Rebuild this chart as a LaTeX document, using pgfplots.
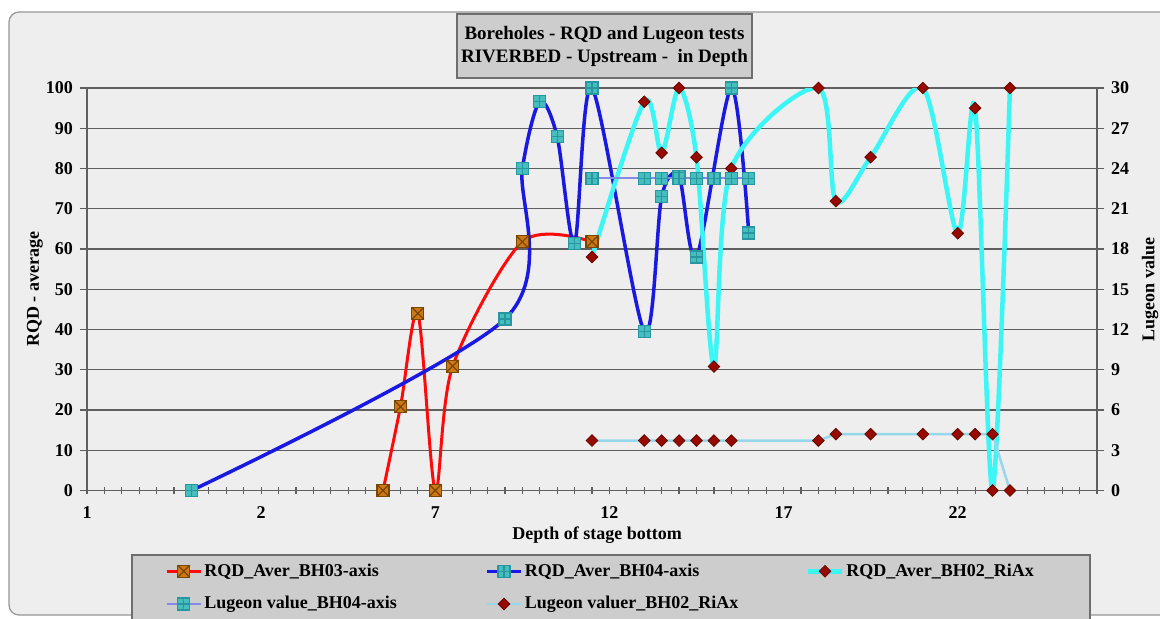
\documentclass[border=0pt]{standalone}
\usepackage{fontspec}
\setmainfont{Liberation Serif}
\usepackage{pgfplots}
\pgfplotsset{compat=1.18}

\definecolor{chartbg}{RGB}{238,238,238}
\definecolor{framegray}{RGB}{150,150,150}
\definecolor{gridgray}{RGB}{95,95,95}
\definecolor{boxgray}{RGB}{205,205,205}
\definecolor{boxedge}{RGB}{110,110,110}
\definecolor{bhred}{RGB}{255,10,10}
\definecolor{bhorange}{RGB}{205,120,20}
\definecolor{bhbrown}{RGB}{120,70,0}
\definecolor{bhblue}{RGB}{25,25,225}
\definecolor{bhcyan}{RGB}{60,245,245}
\definecolor{sqteal}{RGB}{70,190,190}
\definecolor{sqedge}{RGB}{40,150,160}
\definecolor{diared}{RGB}{150,10,0}
\definecolor{lugblue}{RGB}{130,140,230}
\definecolor{luglight}{RGB}{150,215,235}

% square with a cross, square with a plus, plain diamond
\pgfdeclareplotmark{sqx}{%
  \pgfpathrectangle{\pgfqpoint{-\pgfplotmarksize}{-\pgfplotmarksize}}{\pgfqpoint{2\pgfplotmarksize}{2\pgfplotmarksize}}%
  \pgfusepathqfillstroke
  \pgfpathmoveto{\pgfqpoint{-\pgfplotmarksize}{-\pgfplotmarksize}}%
  \pgfpathlineto{\pgfqpoint{\pgfplotmarksize}{\pgfplotmarksize}}%
  \pgfpathmoveto{\pgfqpoint{-\pgfplotmarksize}{\pgfplotmarksize}}%
  \pgfpathlineto{\pgfqpoint{\pgfplotmarksize}{-\pgfplotmarksize}}%
  \pgfusepathqstroke}
\pgfdeclareplotmark{sqplus}{%
  \pgfpathrectangle{\pgfqpoint{-\pgfplotmarksize}{-\pgfplotmarksize}}{\pgfqpoint{2\pgfplotmarksize}{2\pgfplotmarksize}}%
  \pgfusepathqfillstroke
  \pgfpathmoveto{\pgfqpoint{0pt}{-\pgfplotmarksize}}%
  \pgfpathlineto{\pgfqpoint{0pt}{\pgfplotmarksize}}%
  \pgfpathmoveto{\pgfqpoint{-\pgfplotmarksize}{0pt}}%
  \pgfpathlineto{\pgfqpoint{\pgfplotmarksize}{0pt}}%
  \pgfusepathqstroke}
\pgfdeclareplotmark{dia}{%
  \pgfpathmoveto{\pgfqpoint{0pt}{\pgfplotmarksize}}%
  \pgfpathlineto{\pgfqpoint{\pgfplotmarksize}{0pt}}%
  \pgfpathlineto{\pgfqpoint{0pt}{-\pgfplotmarksize}}%
  \pgfpathlineto{\pgfqpoint{-\pgfplotmarksize}{0pt}}%
  \pgfpathclose
  \pgfusepathqfillstroke}

\begin{document}
\begin{tikzpicture}[x=1pt,y=1pt]
\useasboundingbox (0,0) rectangle (580,309);
\fill[white] (0,0) rectangle (580,309);
\draw[framegray, fill=chartbg, line width=0.6pt, rounded corners=5pt] (4.5,1.5) rectangle (620,303);

\node[fill=boxgray, draw=boxedge, line width=0.8pt, minimum width=147.5pt, minimum height=32pt,
      inner sep=1pt, align=center, font=\bfseries\fontsize{9.5}{11.5}\selectfont]
  at (302.25,286) {Boreholes - RQD and Lugeon tests\\RIVERBED - Upstream -\ \ in Depth};

\begin{axis}[
  at={(43.5pt,63.75pt)}, anchor=south west,
  scale only axis, width=505pt, height=201.25pt,
  xmin=0, xmax=58, ymin=0, ymax=100,
  axis lines*=left,
  axis line style={gridgray, line width=0.6pt},
  tick style={gridgray, line width=0.6pt},
  ymajorgrids=true,
  grid style={gridgray, line width=0.6pt},
  xtick={0,10,...,50},
  xticklabels={1,2,7,12,17,22},
  minor xtick={0,1,...,58},
  ytick={0,10,...,100},
  xtick align=center, ytick align=outside,
  major tick length=3.5pt, minor tick length=3.5pt,
  /pgf/number format/assume math mode=true,
  ticklabel style={font=\bfseries\fontsize{9}{11}\selectfont},
  xticklabel style={yshift=-2.7pt},
  xlabel={Depth of stage bottom},
  every axis x label/.style={at={(axis description cs:0.505,-0.1106)}, anchor=center,
    font=\bfseries\fontsize{9}{11}\selectfont},
  ylabel={RQD - average},
  every axis y label/.style={at={(axis description cs:-0.0515,0.5)}, rotate=90, anchor=center,
    font=\bfseries\fontsize{9}{11}\selectfont},
  legend columns=3,
  legend cell align=left,
  legend style={at={(axis description cs:0.04356,-0.15776)}, anchor=north west,
    fill=boxgray, draw=boxedge, line width=0.8pt,
    inner xsep=16.75pt, inner ysep=3.35pt,
    column sep=0pt, row sep=6.65pt,
    nodes={inner sep=1pt},
    font=\bfseries\fontsize{9}{11}\selectfont},
  legend image code/.code={\draw[#1, mark repeat=2, mark phase=2]
    plot coordinates {(0pt,0pt) (8.5pt,0pt) (17pt,0pt)};},
]

% RQD_Aver_BH03-axis
\addplot[bhred, line width=1.5pt, smooth,
  mark=sqx, mark size=3pt, mark options={solid, fill=bhorange, draw=bhbrown, line width=0.6pt}]
coordinates {
(17,0) (18,20.8) (19,44) (20,0) (21,30.9) (25,61.8) (29,61.8)
};
\addlegendentry{\makebox[139.5pt][l]{RQD\_Aver\_BH03-axis}}

% RQD_Aver_BH04-axis
\addplot[bhblue, line width=1.75pt, smooth,
  mark=sqplus, mark size=3pt, mark options={solid, fill=sqteal, draw=sqedge, line width=0.6pt}]
coordinates {
(6,0) (24,42.6) (25,80) (26,96.6) (27,87.9) (28,61.4) (29,100)
(32,39.5) (33,73) (34,78) (35,58) (37,100) (38,64)
};
\addlegendentry{\makebox[139.5pt][l]{RQD\_Aver\_BH04-axis}}

% RQD_Aver_BH02_RiAx
\addplot[bhcyan, line width=2.25pt, smooth,
  mark=dia, mark size=2.9pt, mark options={solid, fill=diared, draw=diared!70!black, line width=0.4pt}]
coordinates {
(29,58) (32,96.6) (33,83.9) (34,100) (35,82.8) (36,30.8) (37,80)
(42,100) (43,71.9) (45,82.8) (48,100) (50,63.9) (51,95) (52,0) (53,100)
};
\addlegendentry{\makebox[104pt][l]{RQD\_Aver\_BH02\_RiAx}}

% Lugeon value_BH04-axis
\addplot[lugblue, line width=1pt,
  mark=sqplus, mark size=3pt, mark options={solid, fill=sqteal, draw=sqedge, line width=0.6pt}]
coordinates {
(29,77.6) (32,77.6) (33,77.6) (34,77.6) (35,77.6) (36,77.6) (37,77.6) (38,77.6)
};
\addlegendentry{\makebox[139.5pt][l]{Lugeon value\_BH04-axis}}

% Lugeon valuer_BH02_RiAx
\addplot[luglight, line width=1.25pt,
  mark=dia, mark size=2.9pt, mark options={solid, fill=diared, draw=diared!70!black, line width=0.4pt}]
coordinates {
(29,12.4) (32,12.4) (33,12.4) (34,12.4) (35,12.4) (36,12.4) (37,12.4)
(42,12.4) (43,14) (45,14) (48,14) (50,14) (51,14) (52,14) (53,0)
};
\addlegendentry{\makebox[139.5pt][l]{Lugeon valuer\_BH02\_RiAx}}

\end{axis}

\begin{axis}[
  at={(43.5pt,63.75pt)}, anchor=south west,
  scale only axis, width=505pt, height=201.25pt,
  xmin=0, xmax=58, ymin=0, ymax=30,
  axis x line=none, axis y line*=right,
  axis line style={gridgray, line width=0.6pt},
  tick style={gridgray, line width=0.6pt},
  ytick={0,3,...,30},
  ytick align=outside, major tick length=3.5pt,
  /pgf/number format/assume math mode=true,
  ticklabel style={font=\bfseries\fontsize{9}{11}\selectfont},
  ylabel={Lugeon value},
  every axis y label/.style={at={(axis description cs:1.0525,0.5)}, rotate=90, anchor=center,
    font=\bfseries\fontsize{9}{11}\selectfont},
]
\end{axis}
\end{tikzpicture}
\end{document}
